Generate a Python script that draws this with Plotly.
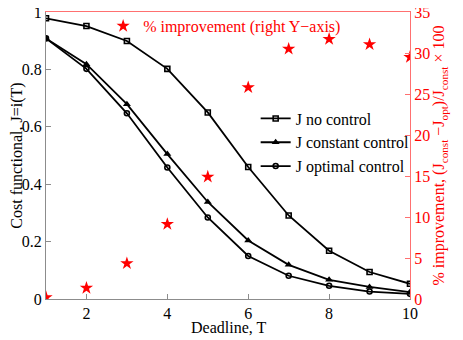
import plotly.graph_objects as go

deadline = [1, 2, 3, 4, 5, 6, 7, 8, 9, 10]
j_no_control = [0.978, 0.951, 0.899, 0.802, 0.650, 0.460, 0.291, 0.168, 0.094, 0.053]
j_constant = [0.908, 0.818, 0.679, 0.505, 0.338, 0.204, 0.119, 0.067, 0.042, 0.024]
j_optimal = [0.908, 0.802, 0.647, 0.458, 0.284, 0.150, 0.081, 0.046, 0.026, 0.018]
improvement = [0.2, 1.34, 4.34, 9.13, 14.9, 25.8, 30.5, 31.7, 31.05, 29.5]

FONT = "Liberation Serif, Times New Roman, serif"
RED = "#ff0000"
AXRED = "#ff7070"
GRAY = "#8c8c8c"

fig = go.Figure()

fig.add_trace(go.Scatter(
    x=deadline, y=improvement, yaxis="y2", mode="markers",
    name="% improvement (right Y\u2212axis)",
    marker=dict(symbol="star", size=10, color=RED, line=dict(width=0)),
    legend="legend",
))

styles = [
    ("J no control", j_no_control, dict(symbol="square-open", size=5, line=dict(width=1.6, color="black"))),
    ("J constant control", j_constant, dict(symbol="triangle-up", size=7)),
    ("J optimal control", j_optimal, dict(symbol="circle-open", size=5, line=dict(width=1.6, color="black"))),
]
for name, vals, mk in styles:
    fig.add_trace(go.Scatter(
        x=deadline, y=vals, mode="lines+markers", name=name,
        line=dict(color="black", width=1.8),
        marker=dict(color="black", **mk),
        legend="legend2",
    ))

# page body has an 8px default margin, so the figure is drawn a bit smaller
fig.update_layout(
    width=455, height=332,
    margin=dict(l=38, r=53, t=4, b=41, autoexpand=False),
    paper_bgcolor="white", plot_bgcolor="white",
    font=dict(family=FONT, size=16, color="black"),
    showlegend=True,
    legend=dict(
        x=0.157, y=1.01, xanchor="left", yanchor="top",
        bgcolor="rgba(0,0,0,0)", font=dict(family=FONT, size=16, color=RED),
        itemwidth=30, tracegroupgap=0,
    ),
    legend2=dict(
        x=0.576, y=0.688, xanchor="left", yanchor="top",
        bgcolor="rgba(0,0,0,0)", font=dict(family=FONT, size=16, color="black"),
        itemwidth=30, tracegroupgap=0,
    ),
    xaxis=dict(
        range=[1, 10], tickvals=[2, 4, 6, 8, 10],
        showline=True, linecolor=GRAY, linewidth=1,
        ticks="inside", ticklen=5, tickcolor=GRAY,
        showgrid=False, zeroline=False,
        tickfont=dict(family=FONT, size=16),
    ),
    xaxis2=dict(
        range=[1, 10], overlaying="x", side="top",
        showline=True, linecolor=AXRED, linewidth=1,
        showticklabels=False, ticks="", showgrid=False, zeroline=False,
    ),
    yaxis=dict(
        range=[0, 1], tickvals=[0, 0.2, 0.4, 0.6, 0.8, 1],
        ticktext=["0", "0.2", "0.4", "0.6", "0.8", "1"],
        showline=True, linecolor=GRAY, linewidth=1,
        ticks="inside", ticklen=5, tickcolor=GRAY,
        showgrid=False, zeroline=False, ticklabeloverflow="allow",
        title=dict(text="Cost functional, J=i(T)", standoff=0, font=dict(family=FONT, size=16)),
        tickfont=dict(family=FONT, size=16),
    ),
    yaxis2=dict(
        range=[0, 35], tickvals=[0, 5, 10, 15, 20, 25, 30, 35],
        overlaying="y", side="right",
        showline=True, linecolor=AXRED, linewidth=1,
        ticks="inside", ticklen=5, tickcolor=AXRED,
        showgrid=False, zeroline=False, ticklabeloverflow="allow",
        tickfont=dict(family=FONT, size=16, color=RED),
        title=dict(
            text="% improvement, (J<sub>const</sub> \u2212J<sub>opt</sub>)/J<sub>const</sub> \u00d7 100",
            standoff=3, font=dict(family=FONT, size=16, color=RED),
        ),
    ),
    annotations=[dict(
        text="Deadline, T", xref="paper", yref="paper", x=0.5, y=-0.1,
        xanchor="center", yanchor="middle", showarrow=False,
        font=dict(family=FONT, size=16, color="black"),
    )],
)

# invisible helper trace so the red top frame line (xaxis2) is drawn
fig.add_trace(go.Scatter(x=[1], y=[0], xaxis="x2", mode="markers",
                         marker=dict(opacity=0), showlegend=False, hoverinfo="skip"))

fig.write_html("out.html")
